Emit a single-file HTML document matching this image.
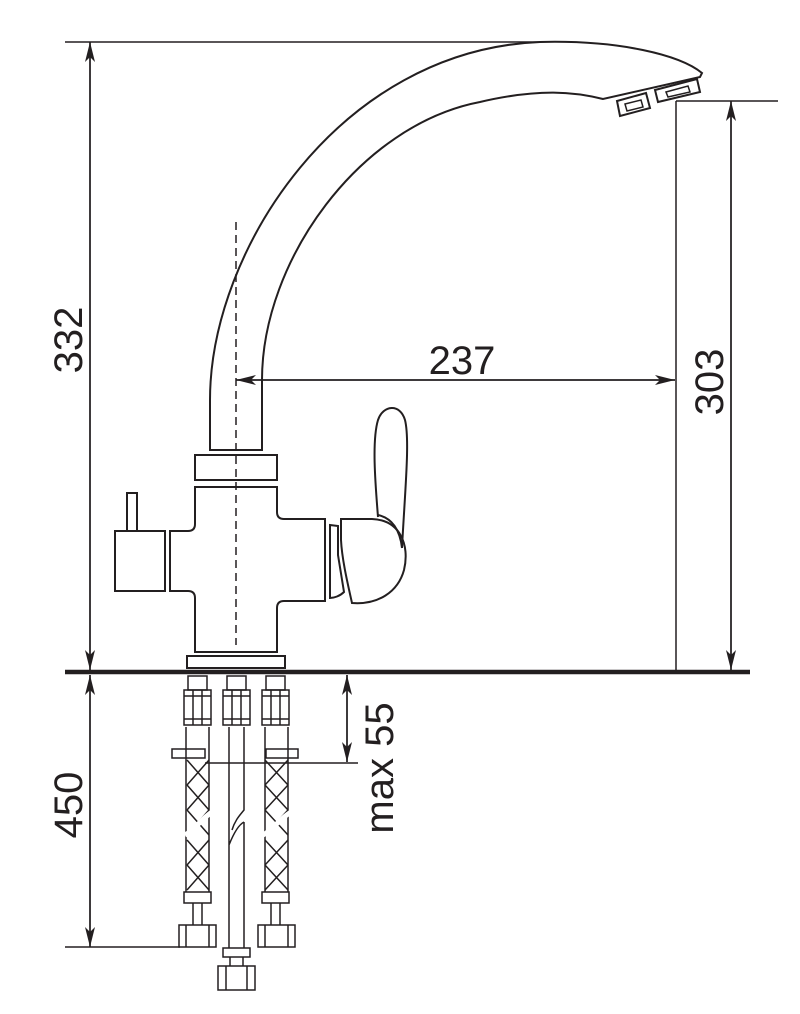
<!DOCTYPE html>
<html><head><meta charset="utf-8"><style>
html,body{margin:0;padding:0;background:#fff}
svg{display:block}
text{font-family:"Liberation Sans",sans-serif;font-size:40px;fill:#231f20}
</style></head><body>
<svg width="800" height="1014" viewBox="0 0 800 1014" xmlns="http://www.w3.org/2000/svg">
<defs>
<marker id="ar" viewBox="0 0 20 10" refX="20" refY="5" markerWidth="20" markerHeight="10" markerUnits="userSpaceOnUse" orient="auto">
<path d="M0,0 L20,5 L0,10 L5,5 Z" fill="#231f20"/></marker>
</defs>
<g fill="none" stroke="#231f20" stroke-width="2">
<!-- spout -->
<path d="M210,450 L210,400 C210,250 340,50 540,42 C620,40 680,55 702,73 L700,77 L603,99 C575,92 540,88 480,102 C360,125 262,260 262,380 L262,450 Z"/>
<path d="M617,101 L646,93 L650,108 L620,116 Z"/>
<path d="M625,104 L641,100 L643,107 L627,111 Z" stroke-width="1.5"/>
<path d="M655,90 L697,79 L700,92 L658,102 Z"/>
<path d="M666,92 L688,86 L690,92 L668,97 Z" stroke-width="1.5"/>
<!-- body -->
<rect x="195" y="455" width="82" height="25"/>
<path d="M195,487 L277,487 L277,512 Q277,519 284,519 L325,519 L325,601 L284,601 Q277,601 277,608 L277,652 L195,652 L195,598 Q195,591 188,591 L170,591 L170,531 L188,531 Q195,531 195,524 Z"/>
<rect x="187" y="656" width="98" height="12"/>
<rect x="115" y="531" width="50" height="60"/>
<rect x="127" y="493" width="10" height="38"/>
<!-- handle -->
<path d="M378,517 C375,480 372,440 378,420 C383,405 400,403 405,420 C410,440 405,490 402,548"/>
<path d="M378,515 C392,518 400,530 402,548" />
<path d="M341,519 L372,519 C400,520 410,545 404,570 C398,592 378,605 352,603 C348,585 342,560 341,540 Z"/>
<path d="M330,525 L338,526 L338,555 L344,592 C340,596 334,598 330,598 Z"/>
<!-- floor -->
<line x1="65" y1="672" x2="750" y2="672" stroke-width="4.5"/>
<!-- dimension lines -->
<line x1="65" y1="42" x2="540" y2="42" stroke-width="1.5"/>
<line x1="676" y1="101" x2="778" y2="101" stroke-width="1.5"/>
<line x1="676" y1="101" x2="676" y2="670" stroke-width="1.5"/>
<line x1="731" y1="101" x2="731" y2="670" stroke-width="1.5" marker-end="url(#ar)"/>
<line x1="731" y1="670" x2="731" y2="101" stroke-width="1.5" marker-end="url(#ar)"/>
<line x1="90" y1="42" x2="90" y2="670" stroke-width="1.5" marker-end="url(#ar)"/>
<line x1="90" y1="670" x2="90" y2="42" stroke-width="1.5" marker-end="url(#ar)"/>
<line x1="236" y1="380" x2="675" y2="380" stroke-width="1.5" marker-end="url(#ar)"/>
<line x1="675" y1="380" x2="236" y2="380" stroke-width="1.5" marker-end="url(#ar)"/>
<line x1="236" y1="222" x2="236" y2="645" stroke-width="1.5" stroke-dasharray="8,5"/>
<line x1="65" y1="947" x2="180" y2="947" stroke-width="1.5"/>
<line x1="90" y1="675" x2="90" y2="947" stroke-width="1.5" marker-end="url(#ar)"/>
<line x1="90" y1="947" x2="90" y2="675" stroke-width="1.5" marker-end="url(#ar)"/>
<line x1="205" y1="763" x2="358" y2="763" stroke-width="1.5"/>
<line x1="347" y1="675" x2="347" y2="762" stroke-width="1.5" marker-end="url(#ar)"/>
<line x1="347" y1="762" x2="347" y2="675" stroke-width="1.5" marker-end="url(#ar)"/>
<!-- hoses -->
<g stroke-width="1.5">
<!-- left -->
<rect x="188" y="676" width="19" height="14"/><rect x="184" y="690" width="27" height="35"/>
<line x1="184" y1="696" x2="211" y2="696"/><line x1="184" y1="719" x2="211" y2="719"/>
<line x1="193" y1="690" x2="193" y2="725"/><line x1="202" y1="690" x2="202" y2="725"/>
<line x1="186" y1="727" x2="186" y2="892"/><line x1="209" y1="727" x2="209" y2="892"/>
<rect x="172" y="749" width="33" height="9"/>
<path d="M187,760 L209,785 M187,785 L209,760 M187,785 L209,810 M187,810 L209,785 M187,810 L209,835 M187,835 L209,810 M187,840 L209,865 M187,865 L209,840 M187,865 L209,890 M187,890 L209,865"/>
<path d="M185,835 C195,830 200,820 212,812" stroke="#fff" stroke-width="5"/>
<rect x="184" y="892" width="27" height="11"/>
<line x1="193" y1="903" x2="193" y2="925"/><line x1="202" y1="903" x2="202" y2="925"/>
<rect x="179" y="925" width="37" height="22"/><line x1="186" y1="925" x2="186" y2="947"/><line x1="209" y1="925" x2="209" y2="947"/>
<!-- right -->
<rect x="266" y="676" width="19" height="14"/><rect x="262" y="690" width="27" height="35"/>
<line x1="262" y1="696" x2="289" y2="696"/><line x1="262" y1="719" x2="289" y2="719"/>
<line x1="271" y1="690" x2="271" y2="725"/><line x1="280" y1="690" x2="280" y2="725"/>
<line x1="265" y1="727" x2="265" y2="892"/><line x1="288" y1="727" x2="288" y2="892"/>
<rect x="266" y="749" width="32" height="9"/>
<path d="M265,760 L288,785 M265,785 L288,760 M265,785 L288,810 M265,810 L288,785 M265,810 L288,835 M265,835 L288,810 M265,840 L288,865 M265,865 L288,840 M265,865 L288,890 M265,890 L288,865"/>
<path d="M263,835 C273,830 278,820 291,812" stroke="#fff" stroke-width="5"/>
<rect x="262" y="892" width="27" height="11"/>
<line x1="271" y1="903" x2="271" y2="925"/><line x1="280" y1="903" x2="280" y2="925"/>
<rect x="258" y="925" width="37" height="22"/><line x1="265" y1="925" x2="265" y2="947"/><line x1="288" y1="925" x2="288" y2="947"/>
<!-- middle -->
<rect x="227" y="676" width="19" height="14"/><rect x="223" y="690" width="27" height="35"/>
<line x1="223" y1="696" x2="250" y2="696"/><line x1="223" y1="719" x2="250" y2="719"/>
<line x1="232" y1="690" x2="232" y2="725"/><line x1="241" y1="690" x2="241" y2="725"/>
<path d="M229,727 L229,845 C233,835 238,825 244,822 M229,845 L229,948 M244,727 L244,810 C240,815 235,820 232,830 M244,822 L244,948"/>
<rect x="223" y="948" width="27" height="9"/>
<line x1="230" y1="957" x2="230" y2="966"/><line x1="243" y1="957" x2="243" y2="966"/>
<rect x="218" y="966" width="37" height="24"/><line x1="226" y1="966" x2="226" y2="990"/><line x1="247" y1="966" x2="247" y2="990"/>
</g>
</g>
<text transform="translate(82,340) rotate(-90)" text-anchor="middle">332</text>
<text transform="translate(723,382) rotate(-90)" text-anchor="middle">303</text>
<text x="462" y="374" text-anchor="middle">237</text>
<text transform="translate(82,805) rotate(-90)" text-anchor="middle">450</text>
<text transform="translate(393,768) rotate(-90)" text-anchor="middle">max 55</text>
</svg>
</body></html>
